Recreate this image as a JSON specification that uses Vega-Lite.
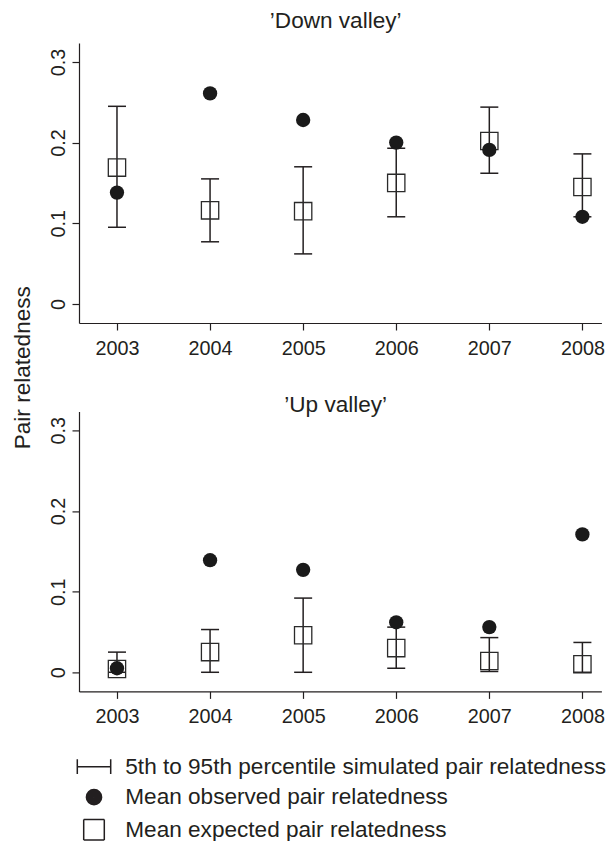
{
  "$schema": "https://vega.github.io/schema/vega-lite/v6.json",
  "background": "white",
  "padding": {"left": 11, "top": 9, "right": 0, "bottom": 0},
  "bounds": "flush",
  "spacing": 88.4,
  "config": {
    "font": "Liberation Sans",
    "view": {"stroke": null},
    "axis": {
      "grid": false,
      "domainColor": "#231f20",
      "tickColor": "#231f20",
      "labelColor": "#231f20",
      "titleColor": "#231f20",
      "labelFont": "Liberation Sans",
      "titleFont": "Liberation Sans",
      "labelFontSize": 19.8,
      "tickSize": 7,
      "domainWidth": 1.2,
      "tickWidth": 1.2,
      "titleFontWeight": "normal"
    },
    "title": {"fontSize": 22.6, "fontWeight": "normal", "color": "#231f20", "font": "Liberation Sans", "baseline": "alphabetic", "frame": "group", "anchor": "middle", "dx": -4.5}
  },
  "data": {
    "values": [
      {"panel": "Down", "year": 2003, "lo": 0.095, "hi": 0.245, "exp": 0.169, "obs": 0.138},
      {"panel": "Down", "year": 2004, "lo": 0.077, "hi": 0.155, "exp": 0.116, "obs": 0.261},
      {"panel": "Down", "year": 2005, "lo": 0.062, "hi": 0.170, "exp": 0.115, "obs": 0.228},
      {"panel": "Down", "year": 2006, "lo": 0.108, "hi": 0.193, "exp": 0.150, "obs": 0.200},
      {"panel": "Down", "year": 2007, "lo": 0.162, "hi": 0.244, "exp": 0.202, "obs": 0.191},
      {"panel": "Down", "year": 2008, "lo": 0.108, "hi": 0.186, "exp": 0.145, "obs": 0.108},
      {"panel": "Up", "year": 2003, "lo": 0.0, "hi": 0.025, "exp": 0.004, "obs": 0.005},
      {"panel": "Up", "year": 2004, "lo": 0.0, "hi": 0.053, "exp": 0.025, "obs": 0.139},
      {"panel": "Up", "year": 2005, "lo": 0.0, "hi": 0.092, "exp": 0.046, "obs": 0.127},
      {"panel": "Up", "year": 2006, "lo": 0.005, "hi": 0.056, "exp": 0.030, "obs": 0.062},
      {"panel": "Up", "year": 2007, "lo": 0.001, "hi": 0.043, "exp": 0.014, "obs": 0.056},
      {"panel": "Up", "year": 2008, "lo": 0.0, "hi": 0.037, "exp": 0.010, "obs": 0.171}
    ]
  },
  "resolve": {"scale": {"shape": "independent"}, "legend": {"shape": "independent"}},
  "vconcat": [
    {
      "width": 522.4,
      "height": 280,
      "title": {"text": "’Down valley’", "offset": 10.6},
      "transform": [{"filter": "datum.panel === 'Down'"}],
      "encoding": {
        "x": {"field": "year", "type": "quantitative",
              "scale": {"domain": [2002.592, 2008.204], "nice": false, "zero": false},
              "axis": {"values": [2003, 2004, 2005, 2006, 2007, 2008], "format": "d", "title": null, "labelFlush": false, "labelOverlap": false, "labelBaseline": "alphabetic", "labelPadding": 24}}
      },
      "layer": [
        {"mark": {"type": "rule", "color": "#231f20", "strokeWidth": 1.5},
         "encoding": {
           "y": {"field": "lo", "type": "quantitative",
                 "scale": {"domain": [-0.0237, 0.3235], "nice": false, "zero": false},
                 "axis": {"values": [0, 0.1, 0.2, 0.3], "format": "~g", "labelAngle": -90, "labelAlign": "center", "labelBaseline": "alphabetic", "labelPadding": 7.3,
                          "title": "Pair relatedness", "titleFontSize": 22.6, "titleAngle": -90, "titleAlign": "center", "titleBaseline": "alphabetic", "titleX": -49.3, "titleY": 324.2}},
           "y2": {"field": "hi"}}},
        {"mark": {"type": "tick", "orient": "horizontal", "size": 18, "thickness": 1.5, "color": "#231f20", "opacity": 1},
         "encoding": {"y": {"field": "hi", "type": "quantitative"}}},
        {"mark": {"type": "tick", "orient": "horizontal", "size": 18, "thickness": 1.5, "color": "#231f20", "opacity": 1},
         "encoding": {"y": {"field": "lo", "type": "quantitative"}}},
        {"mark": {"type": "point", "shape": "square", "size": 300, "filled": false, "color": "#2a2a2a", "strokeWidth": 1.3, "opacity": 1},
         "encoding": {"y": {"field": "exp", "type": "quantitative"}}},
        {"mark": {"type": "point", "shape": "circle", "size": 205, "filled": true, "color": "#1a1a1a", "opacity": 1},
         "encoding": {"y": {"field": "obs", "type": "quantitative"}}}
      ]
    },
    {
      "width": 522.4,
      "height": 280,
      "title": {"text": "’Up valley’", "offset": -5.3},
      "transform": [{"filter": "datum.panel === 'Up'"}],
      "encoding": {
        "x": {"field": "year", "type": "quantitative",
              "scale": {"domain": [2002.592, 2008.204], "nice": false, "zero": false},
              "axis": {"values": [2003, 2004, 2005, 2006, 2007, 2008], "format": "d", "title": null, "labelFlush": false, "labelOverlap": false, "labelBaseline": "alphabetic", "labelPadding": 24}}
      },
      "layer": [
        {"mark": {"type": "rule", "color": "#231f20", "strokeWidth": 1.5},
         "encoding": {
           "y": {"field": "lo", "type": "quantitative",
                 "scale": {"domain": [-0.0237, 0.3235], "nice": false, "zero": false},
                 "axis": {"values": [0, 0.1, 0.2, 0.3], "format": "~g", "labelAngle": -90, "labelAlign": "center", "labelBaseline": "alphabetic", "labelPadding": 7.3, "title": null}},
           "y2": {"field": "hi"}}},
        {"mark": {"type": "tick", "orient": "horizontal", "size": 18, "thickness": 1.5, "color": "#231f20", "opacity": 1},
         "encoding": {"y": {"field": "hi", "type": "quantitative"}}},
        {"mark": {"type": "tick", "orient": "horizontal", "size": 18, "thickness": 1.5, "color": "#231f20", "opacity": 1},
         "encoding": {"y": {"field": "lo", "type": "quantitative"}}},
        {"mark": {"type": "point", "size": 282, "filled": false, "color": "#2a2a2a", "strokeWidth": 1.3, "strokeCap": "square", "opacity": 1},
         "encoding": {
           "y": {"field": "exp", "type": "quantitative"},
           "shape": {"datum": "Mean expected pair relatedness", "type": "nominal",
                     "scale": {"domain": ["5th to 95th percentile simulated pair relatedness", "Mean observed pair relatedness", "Mean expected pair relatedness"],
                               "range": [
                                 "M-1.67,-0.735L-1.67,0.735M-1.67,0L1.67,0M1.67,-0.735L1.67,0.735",
                                 "M0.76,0C0.76,0.42,0.42,0.76,0,0.76C-0.42,0.76,-0.76,0.42,-0.76,0C-0.76,-0.42,-0.42,-0.76,0,-0.76C0.42,-0.76,0.76,-0.42,0.76,0ZM0.66,0C0.66,0.3645,0.3645,0.66,0,0.66C-0.3645,0.66,-0.66,0.3645,-0.66,0C-0.66,-0.3645,-0.3645,-0.66,0,-0.66C0.3645,-0.66,0.66,-0.3645,0.66,0ZM0.56,0C0.56,0.3093,0.3093,0.56,0,0.56C-0.3093,0.56,-0.56,0.3093,-0.56,0C-0.56,-0.3093,-0.3093,-0.56,0,-0.56C0.3093,-0.56,0.56,-0.3093,0.56,0ZM0.46,0C0.46,0.2541,0.2541,0.46,0,0.46C-0.2541,0.46,-0.46,0.2541,-0.46,0C-0.46,-0.2541,-0.2541,-0.46,0,-0.46C0.2541,-0.46,0.46,-0.2541,0.46,0ZM0.36,0C0.36,0.1988,0.1988,0.36,0,0.36C-0.1988,0.36,-0.36,0.1988,-0.36,0C-0.36,-0.1988,-0.1988,-0.36,0,-0.36C0.1988,-0.36,0.36,-0.1988,0.36,0ZM0.26,0C0.26,0.1436,0.1436,0.26,0,0.26C-0.1436,0.26,-0.26,0.1436,-0.26,0C-0.26,-0.1436,-0.1436,-0.26,0,-0.26C0.1436,-0.26,0.26,-0.1436,0.26,0ZM0.16,0C0.16,0.0884,0.0884,0.16,0,0.16C-0.0884,0.16,-0.16,0.0884,-0.16,0C-0.16,-0.0884,-0.0884,-0.16,0,-0.16C0.0884,-0.16,0.16,-0.0884,0.16,0ZM0.06,0C0.06,0.0331,0.0331,0.06,0,0.06C-0.0331,0.06,-0.06,0.0331,-0.06,0C-0.06,-0.0331,-0.0331,-0.06,0,-0.06C0.0331,-0.06,0.06,-0.0331,0.06,0Z",
                                 "M-1.03,-1.03L1.03,-1.03M1.03,-1.03L1.03,1.03M1.03,1.03L-1.03,1.03M-1.03,1.03L-1.03,-1.03"
                               ]},
                     "legend": {
                       "orient": "none", "legendX": 3.7, "legendY": 344, "title": null,
                       "padding": 0, "symbolSize": 400, "symbolStrokeWidth": 1.5, "symbolStrokeColor": "#231f20",
                       "symbolOpacity": 1,
                       "labelFont": "Liberation Sans", "labelFontSize": 22.6, "labelColor": "#231f20", "labelOffset": 20, "labelLimit": 0,
                       "rowPadding": 7.5
                     }}}},
        {"mark": {"type": "point", "shape": "circle", "size": 205, "filled": true, "color": "#1a1a1a", "opacity": 1},
         "encoding": {"y": {"field": "obs", "type": "quantitative"}}}
      ]
    }
  ]
}
